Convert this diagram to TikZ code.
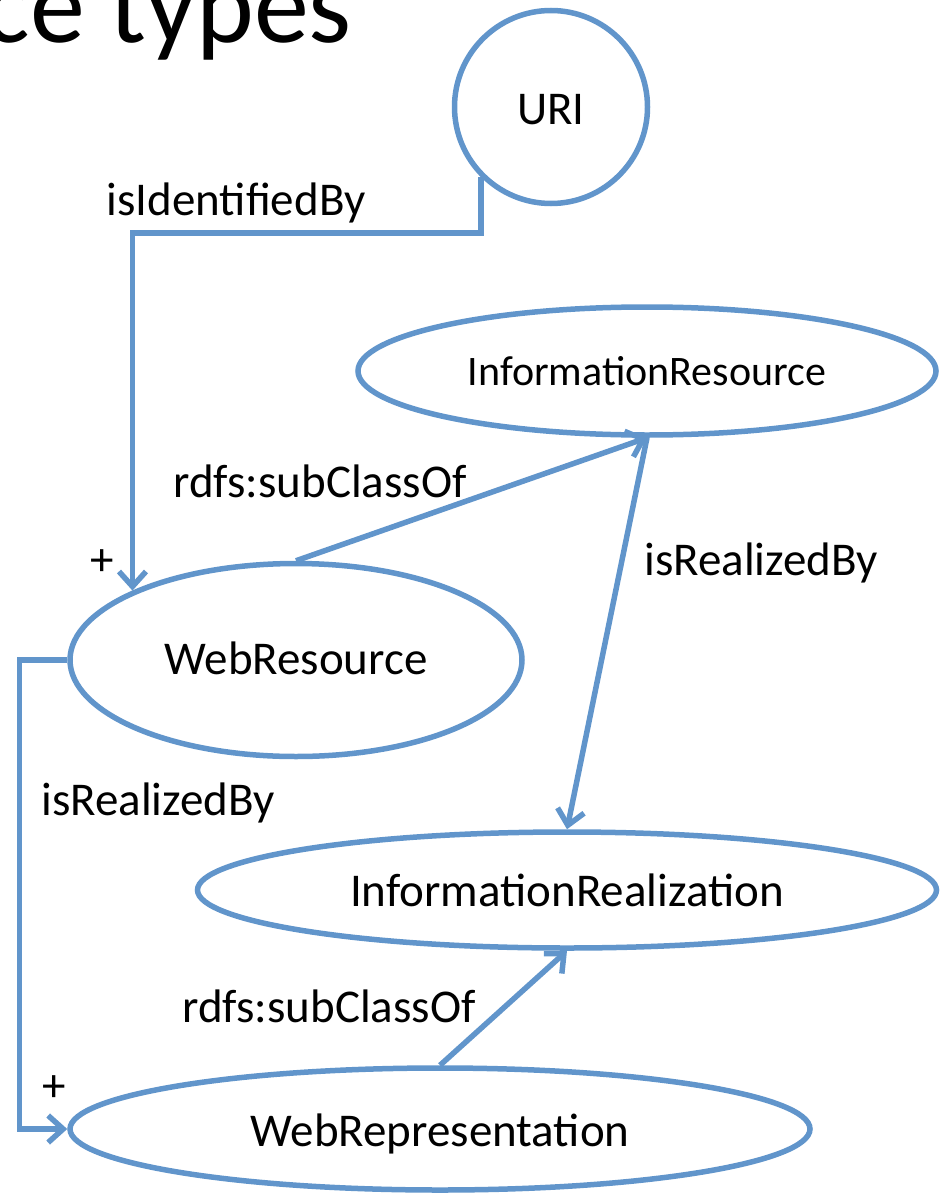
\documentclass[tikz,border=0pt]{standalone}
\usepackage{fontspec}
\setmainfont{Carlito}
\usetikzlibrary{shapes.geometric,arrows.meta}
\definecolor{linkblue}{RGB}{97,149,203}
\newcommand{\lowered}[2]{\raisebox{-#1}[0.7em][0.2em]{#2}}
\begin{document}
\begin{tikzpicture}[x=1pt,y=-1pt,
  class/.style={draw=linkblue,line width=5.5pt,ellipse,inner sep=0pt,
    font=\fontsize{47}{56}\selectfont},
  prop/.style={draw=linkblue,line width=5.5pt,
    -{Straight Barb[length=15pt,width=27pt,line width=5.5pt]}},
  lbl/.style={inner sep=0pt,anchor=base,font=\fontsize{47}{56}\selectfont}]
\useasboundingbox (0,0) rectangle (940,1193);
\node[inner sep=0pt,anchor=base east,font=\fontsize{110}{130}\selectfont] (title) at (352,43) {ce types};
\node[class,circle,minimum size=193pt] (uri) at (551,107) {\lowered{6pt}{URI}};
\node[class,minimum width=578pt,minimum height=128pt,font=\fontsize{42}{50}\selectfont] (infres) at (647,371) {InformationResource};
\node[class,minimum width=452pt,minimum height=193pt] (webres) at (296,660) {\lowered{3pt}{WebResource}};
\node[class,minimum width=739pt,minimum height=116pt] (infreal) at (567,890) {InformationRealization};
\node[class,minimum width=740pt,minimum height=122pt] (webrep) at (440,1129) {\lowered{6pt}{WebRepresentation}};
\draw[prop] (uri.south west) -- ++(0,56) -| (webres.157);
\draw[prop] (webres.north) -- (infres.south);
\draw[prop] (infres.south) -- (infreal.north);
\draw[prop] (webres.west) -- ++(-48,0) |- (webrep.west);
\draw[prop] (webrep.north) -- (infreal.south);
\node[lbl] (lid) at (236,215) {isIdentifiedBy};
\node[lbl] (lsub1) at (320,497) {rdfs:subClassOf};
\node[lbl] (lreal1) at (761,575) {isRealizedBy};
\node[lbl] (lreal2) at (158,815) {isRealizedBy};
\node[lbl] (lsub2) at (329,1022) {rdfs:subClassOf};
\node[lbl] (plus1) at (102,575) {+};
\node[lbl] (plus2) at (54,1101) {+};
\end{tikzpicture}
\end{document}
